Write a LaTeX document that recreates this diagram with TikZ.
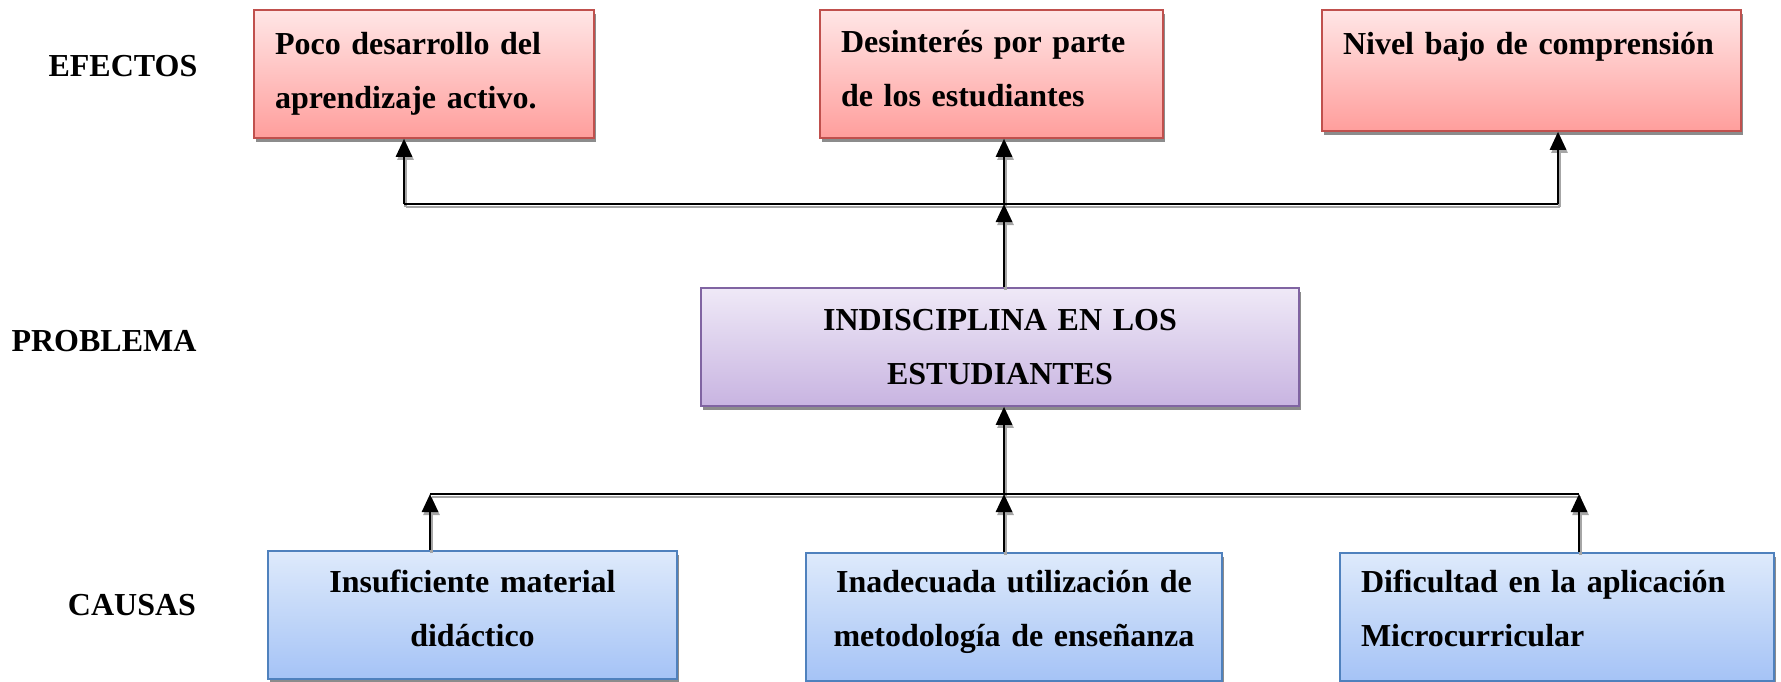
\documentclass[tikz,border=0pt]{standalone}
\usepackage{fontspec}
\setmainfont{Liberation Serif}
\usetikzlibrary{shadows,arrows.meta,calc}
\definecolor{effB}{HTML}{C0504D}
\definecolor{effT}{HTML}{FFE6E6}
\definecolor{effD}{HTML}{FF9E9C}
\definecolor{proB}{HTML}{8064A2}
\definecolor{proT}{HTML}{EFE9F7}
\definecolor{proD}{HTML}{C8B4E1}
\definecolor{cauB}{HTML}{4F81BD}
\definecolor{cauT}{HTML}{DEEAFB}
\definecolor{cauD}{HTML}{A5C3F6}
\newcommand\dnstrut[1]{\rule[-#1]{0pt}{#1}}
\newcommand\drawconns[1]{%
  \draw[#1] (t1) -- (t3);
  \draw[#1,arr] (t1) -- (t1 |- e1.south);
  \draw[#1,arr] (t2) -- (t2 |- e2.south);
  \draw[#1,arr] (t3) -- (t3 |- e3.south);
  \draw[#1,arr] (t2 |- p.north) -- (t2);
  \draw[#1] (u1) -- (u3);
  \draw[#1,arr] (u1 |- c1.north) -- (u1);
  \draw[#1,arr] (u2 |- c2.north) -- (u2);
  \draw[#1,arr] (u3 |- c3.north) -- (u3);
  \draw[#1,arr] (u2) -- (u2 |- p.south);
}
\begin{document}
\begin{tikzpicture}[x=1pt,y=-1pt,
  txt/.style={font=\bfseries\fontsize{32}{54}\selectfont},
  box/.style={txt, rectangle, draw, line width=1.6pt, inner xsep=21pt, inner ysep=0pt,
    drop shadow={shadow xshift=2pt, shadow yshift=-4pt, fill=black!45, opacity=1}},
  effect/.style={box, draw=effB, top color=effT, bottom color=effD, align=left},
  problem/.style={box, draw=proB, top color=proT, bottom color=proD, align=center},
  cause/.style={box, draw=cauB, top color=cauT, bottom color=cauD},
  lbl/.style={txt, inner sep=0pt},
  mainline/.style={draw=black, line width=2.6pt},
  shadowline/.style={draw=black!35, line width=2.6pt, transform canvas={xshift=1.5pt, yshift=-3pt}},
  arr/.style={-{Triangle[width=16pt,length=18pt]}}
]
\useasboundingbox (0,0) rectangle (1781,681);
% row labels
\node[lbl] (lefe) at (123,66) {EFECTOS};
\node[lbl] (lpro) at (104,341) {PROBLEMA};
\node[lbl] (lcau) at (132,605) {CAUSAS};
% effects
\node[effect, minimum width=340pt, text width=298pt, minimum height=128pt] (e1) at (424,74)
  {Poco desarrollo del\\aprendizaje activo.};
\node[effect, minimum width=343pt, text width=301pt, minimum height=128pt] (e2) at (991.5,74)
  {Desinterés por parte\\de los estudiantes\dnstrut{11pt}};
\node[effect, minimum width=419pt, text width=377pt, minimum height=121pt] (e3) at (1531.5,70.5)
  {Nivel bajo de comprensión\\\mbox{}};
% problem
\node[problem, minimum width=598pt, text width=556pt, minimum height=118pt] (p) at (1000,347)
  {INDISCIPLINA EN LOS\\ESTUDIANTES};
% causes
\node[cause, align=center, minimum width=409pt, text width=367pt, minimum height=128pt] (c1) at (472.5,615)
  {Insuficiente material\\didáctico\dnstrut{14pt}};
\node[cause, align=center, minimum width=416pt, text width=374pt, minimum height=128pt] (c2) at (1014,617)
  {Inadecuada utilización de\\metodología de enseñanza\dnstrut{17pt}};
\node[cause, align=left, minimum width=434pt, text width=392pt, minimum height=128pt] (c3) at (1557,617)
  {Dificultad en la aplicación\\Microcurricular\dnstrut{18pt}};
% bus coordinates
\coordinate (t1) at (404,204);
\coordinate (t2) at (1004,204);
\coordinate (t3) at (1558,204);
\coordinate (u1) at (430,494);
\coordinate (u2) at (1004,494);
\coordinate (u3) at (1579,494);
\drawconns{shadowline}
\drawconns{mainline}
\end{tikzpicture}
\end{document}
